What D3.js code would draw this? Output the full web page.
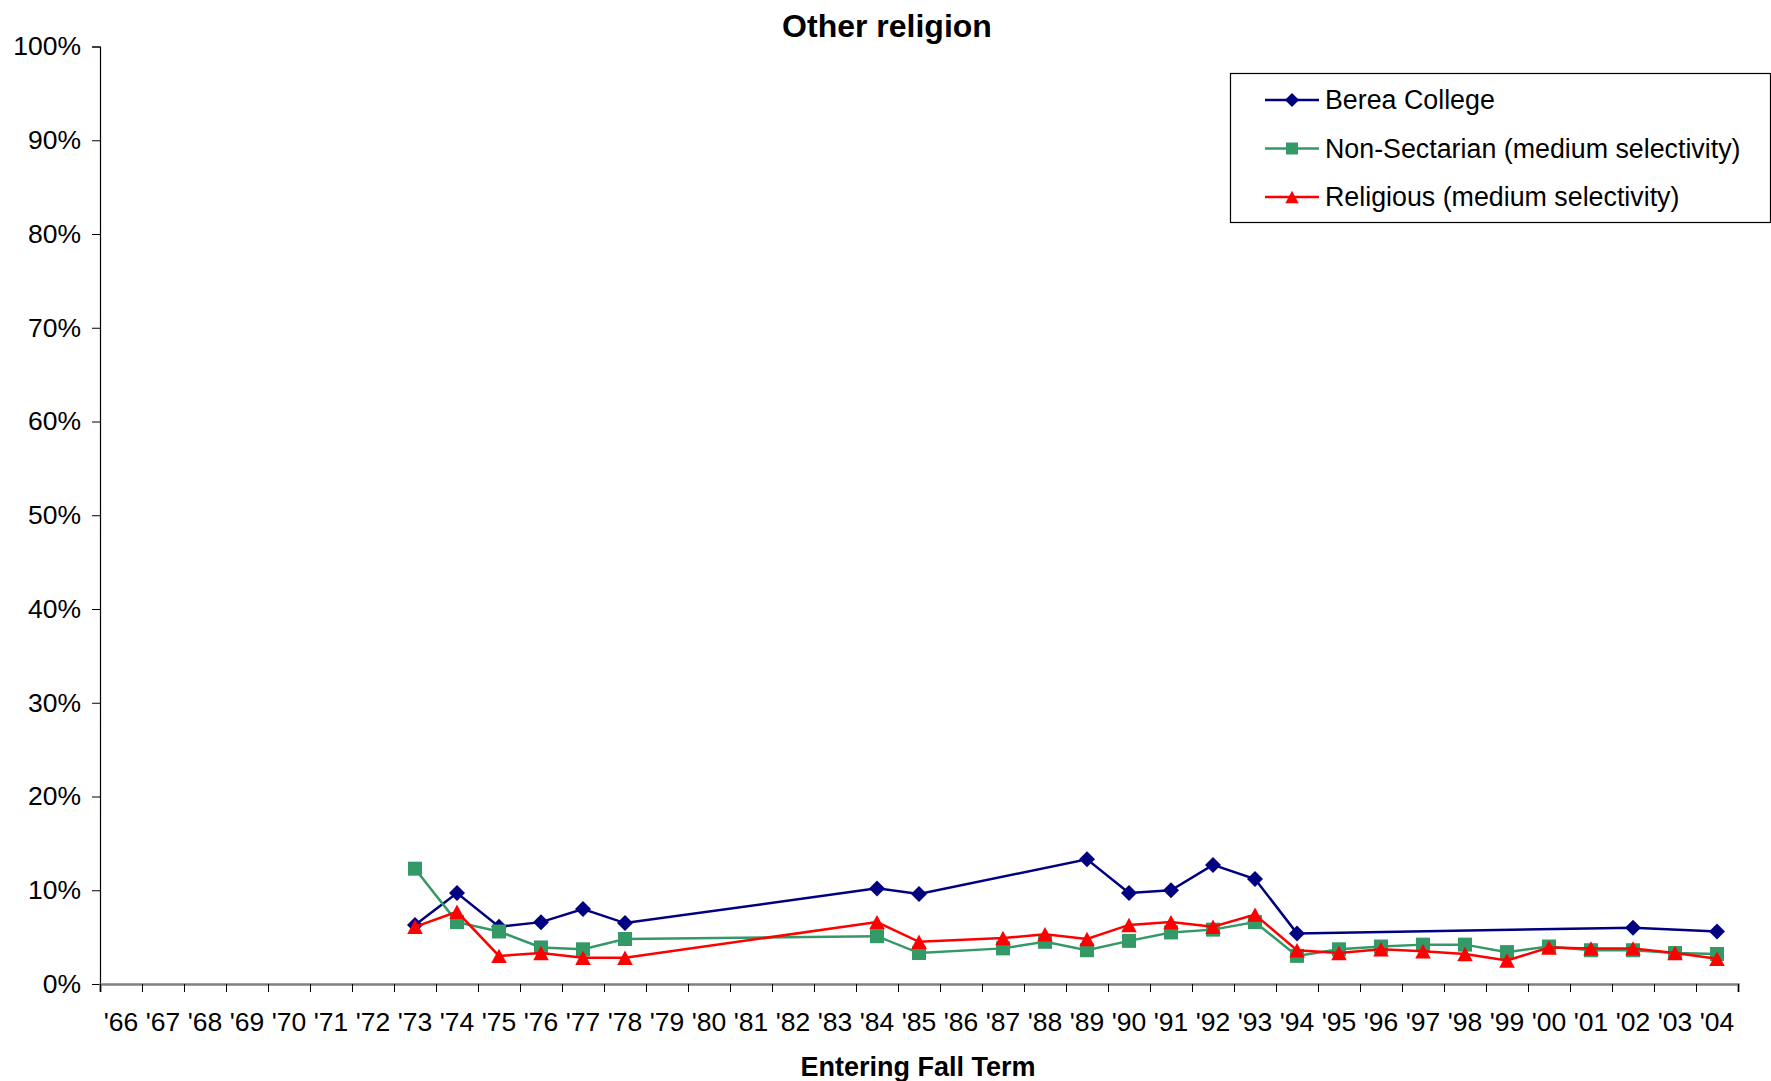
<!DOCTYPE html>
<html>
<head>
<meta charset="utf-8">
<script src="https://cdn.jsdelivr.net/npm/d3@7"></script>
<style>
  body { margin: 0; background: #fff; }
  svg { display: block; font-family: "Liberation Sans", Arial, sans-serif; }
</style>
</head>
<body>
<script>
// Canvas setup
const canvasWidth = 1771;
const canvasHeight = 1081;

// Data (percent), null = no value for that year
const years = ["'66","'67","'68","'69","'70","'71","'72","'73","'74","'75","'76","'77","'78","'79",
  "'80","'81","'82","'83","'84","'85","'86","'87","'88","'89","'90","'91","'92","'93","'94",
  "'95","'96","'97","'98","'99","'00","'01","'02","'03","'04"];

const bereaValues = [null,null,null,null,null,null,null,6.3,9.7,6.1,6.6,8.0,6.5,null,
  null,null,null,null,10.2,9.6,null,null,null,13.3,9.7,10.0,12.7,11.2,5.4,
  null,null,null,null,null,null,null,6.0,null,5.6];

const nonSectarianValues = [null,null,null,null,null,null,null,12.3,6.6,5.6,3.9,3.7,4.8,null,
  null,null,null,null,5.1,3.3,null,3.8,4.5,3.6,4.6,5.5,5.8,6.6,3.0,
  3.7,4.0,4.2,4.2,3.4,4.0,3.6,3.6,3.3,3.2];

const religiousValues = [null,null,null,null,null,null,null,6.1,7.7,3.0,3.3,2.8,2.8,null,
  null,null,null,null,6.6,4.5,null,4.9,5.3,4.8,6.3,6.6,6.1,7.4,3.6,
  3.3,3.7,3.5,3.2,2.5,3.9,3.8,3.8,3.3,2.7];

const yTicks = [0,10,20,30,40,50,60,70,80,90,100];

const seriesNames = ["Berea College", "Non-Sectarian (medium selectivity)", "Religious (medium selectivity)"];

const series = [
  { name: seriesNames[0], values: bereaValues, color: "#000080", symbol: "diamond" },
  { name: seriesNames[1], values: nonSectarianValues, color: "#339966", symbol: "square" },
  { name: seriesNames[2], values: religiousValues, color: "#ff0000", symbol: "triangle" }
];

const margins = { top: 46.5, bottom: 97, left: 100, right: 33 };
const plotWidth = canvasWidth - margins.left - margins.right;
const plotHeight = canvasHeight - margins.top - margins.bottom;

const svg = d3.select('body')
  .append('svg')
  .attr('width', canvasWidth)
  .attr('height', canvasHeight);

const plotGroup = svg.append('g')
  .attr('transform', `translate(${margins.left},${margins.top})`);

// Scales
const xScale = d3.scaleBand().domain(years).range([0, plotWidth]).padding(0);
const xEdge = d3.scaleLinear().domain([0, years.length]).range([0, plotWidth]);
const yScale = d3.scaleLinear().domain([0, 100]).range([plotHeight, 0]);

// Y axis
const yAxis = plotGroup.append('g')
  .call(d3.axisLeft(yScale).tickValues(yTicks).tickSize(8).tickPadding(11)
    .tickFormat(d => d + "%"));
yAxis.select('.domain').attr('stroke', '#000').attr('stroke-width', 1.2);
yAxis.selectAll('.tick line').attr('stroke', '#000');
yAxis.selectAll('text').attr('font-size', 26.5).attr('fill', '#000');

// X axis: ticks at category boundaries
const xTickAxis = plotGroup.append('g')
  .attr('transform', `translate(0,${plotHeight})`)
  .call(d3.axisBottom(xEdge).tickValues(d3.range(0, years.length + 1)).tickSize(8).tickFormat(''));
xTickAxis.select('.domain').attr('stroke', '#808080').attr('stroke-width', 2.5);
xTickAxis.selectAll('.tick line').attr('stroke', '#000');

// X labels at category centres
const xLabelAxis = plotGroup.append('g')
  .attr('transform', `translate(0,${plotHeight})`)
  .call(d3.axisBottom(xScale).tickSize(0).tickPadding(28));
xLabelAxis.select('.domain').remove();
xLabelAxis.selectAll('text').attr('font-size', 26.5).attr('fill', '#000');

// Marker shapes (Excel-like): rotated square, square, triangle
const symbolTypes = {
  diamond: { draw(ctx, r) { ctx.moveTo(0, -r); ctx.lineTo(r, 0); ctx.lineTo(0, r); ctx.lineTo(-r, 0); ctx.closePath(); } },
  square: { draw(ctx, r) { ctx.rect(-r, -r, 2 * r, 2 * r); } },
  triangle: { draw(ctx, r) { ctx.moveTo(0, -r); ctx.lineTo(r * 1.08, r); ctx.lineTo(-r * 1.08, r); ctx.closePath(); } }
};
const symbolSizes = { diamond: 8, square: 7, triangle: 7.2 };

// Lines and markers
const lineFn = d3.line()
  .x(d => xScale(d.year) + xScale.bandwidth() / 2)
  .y(d => yScale(d.value));

for (const s of series) {
  const pts = years.map((y, i) => ({ year: y, value: s.values[i] })).filter(d => d.value !== null);
  plotGroup.append('path')
    .attr('d', lineFn(pts))
    .attr('fill', 'none')
    .attr('stroke', s.color)
    .attr('stroke-width', 2.5);
  plotGroup.selectAll(null)
    .data(pts)
    .join('path')
    .attr('d', d3.symbol().type(symbolTypes[s.symbol]).size(symbolSizes[s.symbol]))
    .attr('transform', d => `translate(${xScale(d.year) + xScale.bandwidth() / 2},${yScale(d.value)})`)
    .attr('fill', s.color);
}

// Titles
svg.append('text')
  .attr('x', 887).attr('y', 37)
  .attr('text-anchor', 'middle')
  .attr('font-size', 32).attr('font-weight', 'bold')
  .text('Other religion');

svg.append('text')
  .attr('x', 918).attr('y', 1076)
  .attr('text-anchor', 'middle')
  .attr('font-size', 27).attr('font-weight', 'bold')
  .text('Entering Fall Term');

// Legend
const legend = svg.append('g').attr('transform', 'translate(1230,73)');
legend.append('rect')
  .attr('x', 0.5).attr('y', 0.5)
  .attr('width', 540).attr('height', 149)
  .attr('fill', '#fff').attr('stroke', '#000').attr('stroke-width', 1.2);

series.forEach((s, i) => {
  const ly = 27 + i * 48.5;
  legend.append('line')
    .attr('x1', 35).attr('x2', 89).attr('y1', ly).attr('y2', ly)
    .attr('stroke', s.color).attr('stroke-width', 2.5);
  legend.append('path')
    .attr('d', d3.symbol().type(symbolTypes[s.symbol]).size(symbolSizes[s.symbol] - 1)())
    .attr('transform', `translate(62,${ly})`)
    .attr('fill', s.color);
  legend.append('text')
    .attr('x', 95).attr('y', ly)
    .attr('dy', '0.35em')
    .attr('font-size', 26.8)
    .text(s.name);
});
</script>
</body>
</html>
